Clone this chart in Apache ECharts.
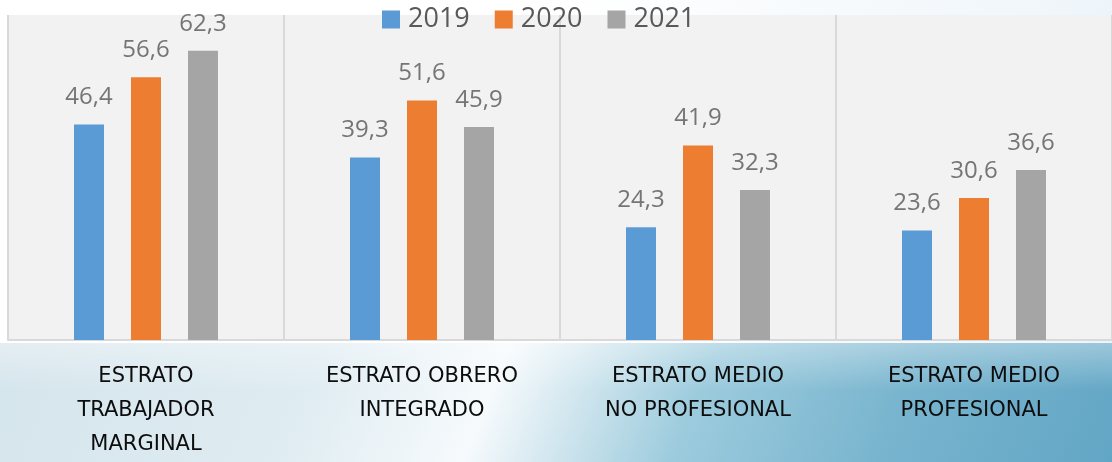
<!DOCTYPE html>
<html>
<head>
<meta charset="utf-8">
<script src="https://cdn.jsdelivr.net/npm/echarts@6/dist/echarts.min.js"></script>
<style>
html,body{margin:0;padding:0;}
#wrap{position:relative;width:1112px;height:462px;overflow:hidden;
 background:linear-gradient(to right, #ffffff 0%, #ffffff 50%, #eef5fa 100%);}
#bg{position:absolute;left:0;top:343px;width:1112px;height:119px;
 background:
  linear-gradient(to bottom, rgba(255,255,255,0.35) 0%, rgba(255,255,255,0) 40%),
  linear-gradient(112deg, #d5e5ec 0%, #dfecf2 28%, #f6fafc 44%, #cfe5ee 52%, #9ccbdd 62%, #78b4ce 80%, #62a6c5 100%);}
#chart{position:absolute;left:0;top:0;width:1112px;height:462px;}
</style>
</head>
<body>
<div id="wrap"><div id="bg"></div><div id="chart"></div></div>
<script>
var categories = ["ESTRATO\nTRABAJADOR\nMARGINAL", "ESTRATO OBRERO\nINTEGRADO", "ESTRATO MEDIO\nNO PROFESIONAL", "ESTRATO MEDIO\nPROFESIONAL"];
var seriesNames = ["2019", "2020", "2021"];
var values2019 = [46.4, 39.3, 24.3, 23.6];
var values2020 = [56.6, 51.6, 41.9, 30.6];
var values2021 = [62.3, 45.9, 32.3, 36.6];
var colors = ["#5b9bd5", "#ed7d31", "#a5a5a5"];

var chart = echarts.init(document.getElementById('chart'), null, {renderer: 'canvas'});
function mk(name, data, color) {
  return {
    name: name, type: 'bar', data: data, barWidth: 30, barGap: '90%',
    itemStyle: {color: color},
    label: {show: true, position: 'top', distance: 15, color: '#757575',
      fontFamily: 'Open Sans', fontSize: 24,
      formatter: function (p) { return p.value.toFixed(1).replace('.', ','); }}
  };
}
chart.setOption({
  backgroundColor: 'transparent',
  animation: false,
  color: colors,
  legend: {
    top: 1, left: 377, itemWidth: 18, itemHeight: 18, itemGap: 25,
    icon: 'rect',
    textStyle: {fontFamily: 'Open Sans', fontSize: 27, color: '#595959', padding: [0,0,0,3]},
    data: seriesNames
  },
  grid: {left: 8, right: -2, top: 15, bottom: 120, show: true, backgroundColor: '#f2f2f2', borderWidth: 0},
  xAxis: {
    type: 'category', data: categories,
    axisLine: {show: true, lineStyle: {color: '#d9d9d9', width: 2}},
    axisTick: {show: false},
    splitLine: {show: true, lineStyle: {color: '#d9d9d9', width: 2}},
    axisLabel: {interval: 0, color: '#0d0d0d', fontFamily: 'DejaVu Sans', fontSize: 21, lineHeight: 34, margin: 20}
  },
  yAxis: {
    type: 'value', min: 0, max: 70, interval: 10,
    show: false, splitLine: {show: false}
  },
  series: [mk(seriesNames[0], values2019, colors[0]), mk(seriesNames[1], values2020, colors[1]), mk(seriesNames[2], values2021, colors[2])]
});
</script>
</body>
</html>
